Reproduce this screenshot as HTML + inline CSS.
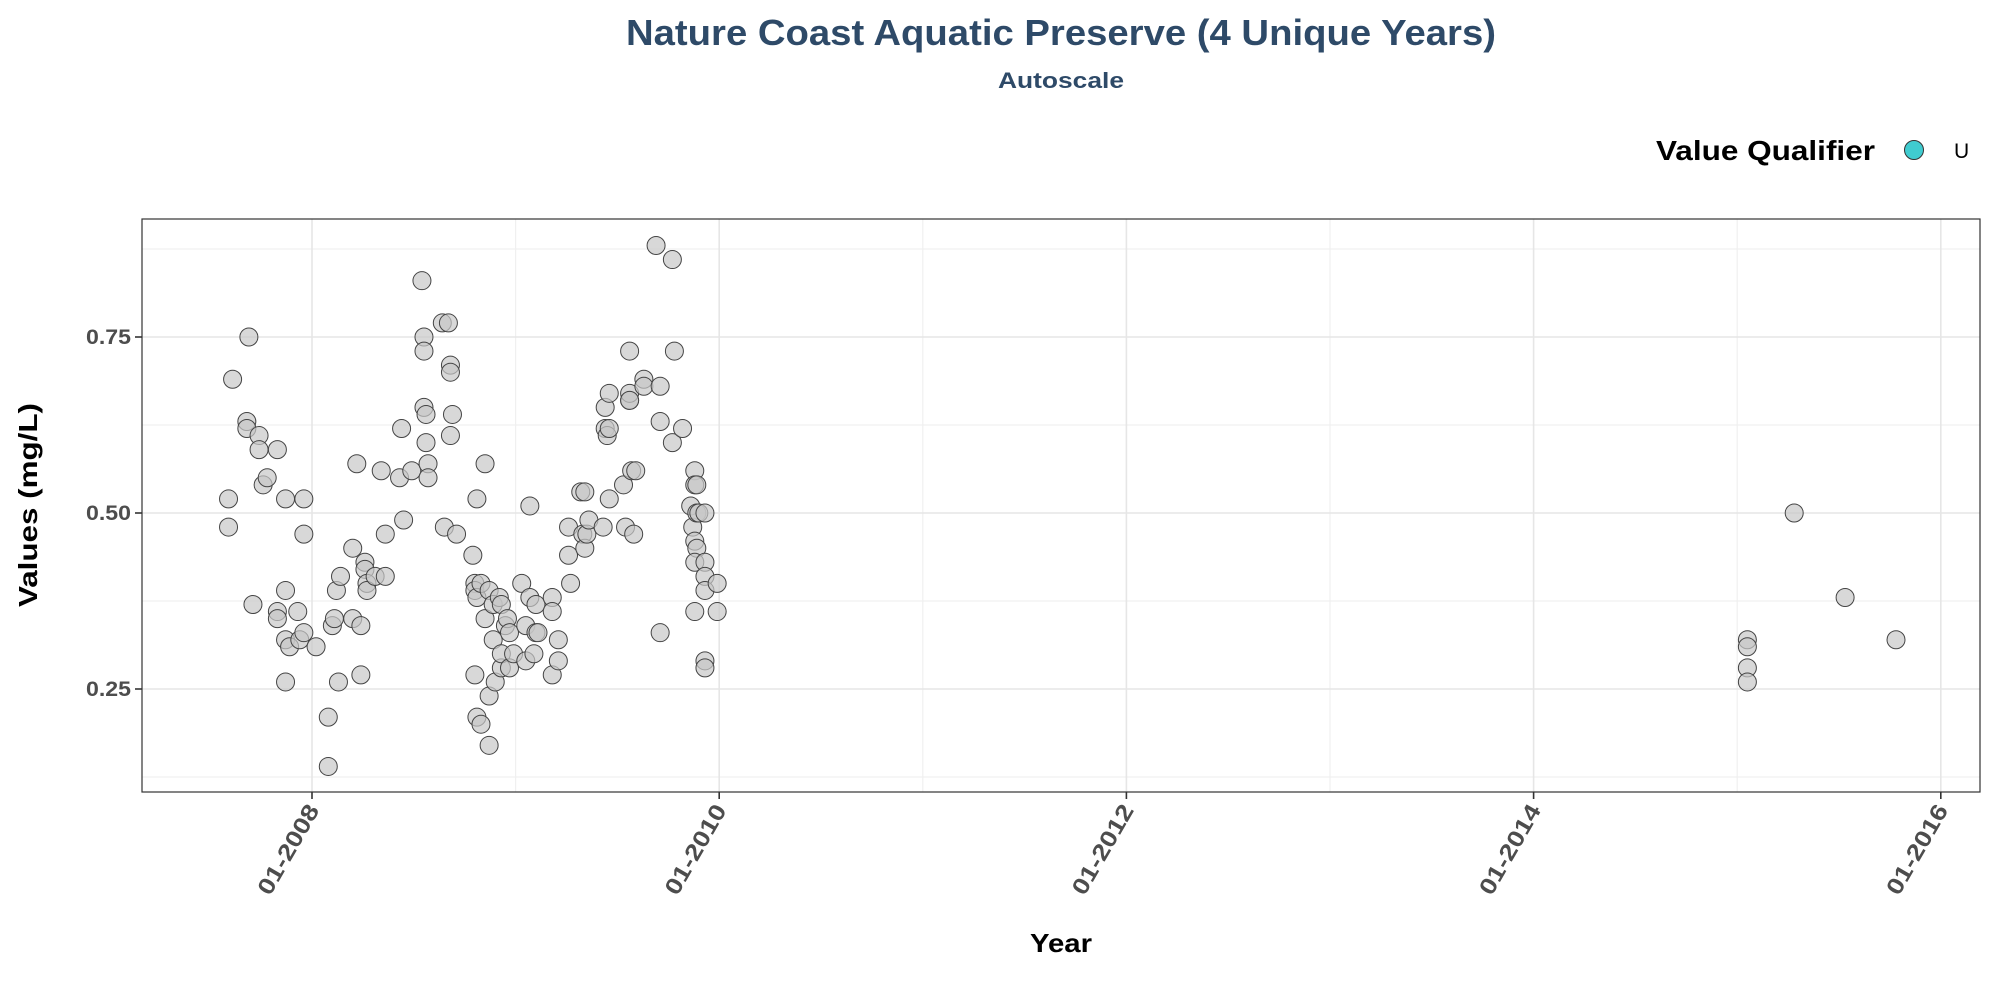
<!DOCTYPE html>
<html><head><meta charset="utf-8"><style>
html,body{margin:0;padding:0;background:#fff;}
svg{display:block;font-family:"Liberation Sans",sans-serif;}
</style></head><body>
<svg id="chart" width="2000" height="1000">
<text x="1061" y="45" text-anchor="middle" font-size="36" font-weight="bold" fill="#2e4a68" textLength="870" lengthAdjust="spacingAndGlyphs">Nature Coast Aquatic Preserve (4 Unique Years)</text>
<text x="1061" y="88" text-anchor="middle" font-size="22" font-weight="bold" fill="#2e4a68" textLength="126" lengthAdjust="spacingAndGlyphs">Autoscale</text>
<g>
<text x="1875" y="160" text-anchor="end" font-size="28" font-weight="bold" fill="#000" textLength="219" lengthAdjust="spacingAndGlyphs">Value Qualifier</text>
<circle cx="1914" cy="150" r="9.5" fill="#40ccd0" stroke="#333" stroke-width="1"></circle>
<text x="1954" y="158" font-size="21" fill="#000">U</text>
</g>
<g id="grid"></g>
<g id="points"></g>
<rect x="142" y="219" width="1838" height="573" fill="none" stroke="#333" stroke-width="1.2"></rect>
<g id="axes"></g>
<text transform="translate(37,505) rotate(-90)" text-anchor="middle" font-size="26" font-weight="bold" fill="#000" textLength="204" lengthAdjust="spacingAndGlyphs">Values (mg/L)</text>
<text x="1061" y="952" text-anchor="middle" font-size="26" font-weight="bold" fill="#000" textLength="62" lengthAdjust="spacingAndGlyphs">Year</text>
</svg>
<script>
const years = [2007.59,2007.59,2007.61,2007.69,2007.68,2007.68,2007.71,2007.74,2007.74,2007.76,2007.78,2007.83,2007.83,2007.83,2007.87,2007.87,2007.87,2007.87,2007.89,2007.93,2007.94,2007.96,2007.96,2007.96,2008.02,2008.08,2008.08,2008.10,2008.11,2008.12,2008.13,2008.14,2008.20,2008.20,2008.22,2008.24,2008.24,2008.26,2008.26,2008.27,2008.27,2008.31,2008.34,2008.36,2008.36,2008.43,2008.44,2008.45,2008.49,2008.54,2008.55,2008.55,2008.55,2008.56,2008.56,2008.57,2008.57,2008.64,2008.67,2008.65,2008.68,2008.68,2008.68,2008.69,2008.71,2008.79,2008.80,2008.80,2008.81,2008.81,2008.80,2008.81,2008.83,2008.83,2008.85,2008.85,2008.87,2008.87,2008.87,2008.89,2008.89,2008.90,2008.92,2008.93,2008.93,2008.93,2008.95,2008.96,2008.97,2008.97,2008.99,2009.03,2009.05,2009.05,2009.07,2009.07,2009.09,2009.10,2009.10,2009.11,2009.18,2009.18,2009.18,2009.21,2009.21,2009.26,2009.26,2009.27,2009.32,2009.33,2009.34,2009.34,2009.35,2009.36,2009.43,2009.44,2009.44,2009.45,2009.46,2009.46,2009.46,2009.53,2009.54,2009.56,2009.56,2009.56,2009.56,2009.57,2009.58,2009.59,2009.63,2009.63,2009.69,2009.71,2009.71,2009.71,2009.77,2009.78,2009.77,2009.82,2009.88,2009.88,2009.89,2009.86,2009.87,2009.88,2009.89,2009.88,2009.88,2009.89,2009.90,2009.93,2009.93,2009.93,2009.93,2009.93,2009.93,2009.99,2009.99,2015.05,2015.05,2015.05,2015.05,2015.28,2015.53,2015.78];
const values = [0.52,0.48,0.69,0.75,0.63,0.62,0.37,0.61,0.59,0.54,0.55,0.59,0.36,0.35,0.52,0.39,0.32,0.26,0.31,0.36,0.32,0.52,0.47,0.33,0.31,0.21,0.14,0.34,0.35,0.39,0.26,0.41,0.45,0.35,0.57,0.34,0.27,0.43,0.42,0.40,0.39,0.41,0.56,0.41,0.47,0.55,0.62,0.49,0.56,0.83,0.75,0.73,0.65,0.64,0.60,0.57,0.55,0.77,0.77,0.48,0.71,0.70,0.61,0.64,0.47,0.44,0.40,0.39,0.38,0.52,0.27,0.21,0.40,0.20,0.35,0.57,0.39,0.24,0.17,0.37,0.32,0.26,0.38,0.28,0.37,0.30,0.34,0.35,0.33,0.28,0.30,0.40,0.34,0.29,0.51,0.38,0.30,0.37,0.33,0.33,0.27,0.38,0.36,0.32,0.29,0.48,0.44,0.40,0.53,0.47,0.53,0.45,0.47,0.49,0.48,0.65,0.62,0.61,0.67,0.62,0.52,0.54,0.48,0.73,0.66,0.67,0.66,0.56,0.47,0.56,0.69,0.68,0.88,0.68,0.63,0.33,0.86,0.73,0.60,0.62,0.56,0.54,0.54,0.51,0.48,0.46,0.45,0.43,0.36,0.50,0.50,0.50,0.43,0.41,0.39,0.29,0.28,0.40,0.36,0.32,0.31,0.28,0.26,0.50,0.38,0.32];
const yTicks = [0.25,0.50,0.75];
const yTickLabels = ["0.25","0.50","0.75"];
const yMinor = [0.125,0.375,0.625,0.875];
const xTicks = [2008,2010,2012,2014,2016];
const xTickLabels = ["01-2008","01-2010","01-2012","01-2014","01-2016"];
const xMinor = [2009,2011,2013,2015];

const NS="http://www.w3.org/2000/svg";
const L=142,R=1980,T=219,B=792;
function xs(y){return 312+(y-2008)*203.6;}
function ys(v){return 513-(v-0.5)*704;}
function mk(tag,attrs,parent){const e=document.createElementNS(NS,tag);for(const k in attrs)e.setAttribute(k,attrs[k]);parent.appendChild(e);return e;}
const grid=document.getElementById('grid'),pts=document.getElementById('points'),axes=document.getElementById('axes');
yMinor.forEach(v=>{const e=mk('line',{x1:L,x2:R,y1:ys(v),y2:ys(v),stroke:'#f0f0f0','stroke-width':1.2},grid);

});
xMinor.forEach(v=>{const e=mk('line',{x1:xs(v),x2:xs(v),y1:T,y2:B,stroke:'#f0f0f0','stroke-width':1.2},grid);

});
yTicks.forEach((v,i)=>{const e=mk('line',{x1:L,x2:R,y1:ys(v),y2:ys(v),stroke:'#e6e6e6','stroke-width':1.6},grid);


const t=mk('line',{x1:L-7,x2:L,y1:ys(v),y2:ys(v),stroke:'#333','stroke-width':1.6},axes);


const tx=mk('text',{x:L-11,y:ys(v)+7,'text-anchor':'end','font-size':21,'font-weight':'bold',fill:'#4d4d4d',textLength:45,lengthAdjust:'spacingAndGlyphs'},axes);
tx.textContent=yTickLabels[i];

});
xTicks.forEach((v,i)=>{const x=xs(v);const e=mk('line',{x1:x,x2:x,y1:T,y2:B,stroke:'#e6e6e6','stroke-width':1.6},grid);


const t=mk('line',{x1:x,x2:x,y1:B,y2:B+7,stroke:'#333','stroke-width':1.6},axes);


const tx=mk('text',{transform:'translate('+(x+8)+','+(B+18)+') rotate(-60)','text-anchor':'end','font-size':23,'font-weight':'bold',fill:'#4d4d4d',textLength:100,lengthAdjust:'spacingAndGlyphs'},axes);
tx.textContent=xTickLabels[i];

});
years.forEach((y,i)=>{const c=mk('circle',{cx:xs(y),cy:ys(values[i]),r:9,fill:'rgba(200,200,200,0.7)',stroke:'#444','stroke-width':1},pts);

});
</script>
</body></html>
